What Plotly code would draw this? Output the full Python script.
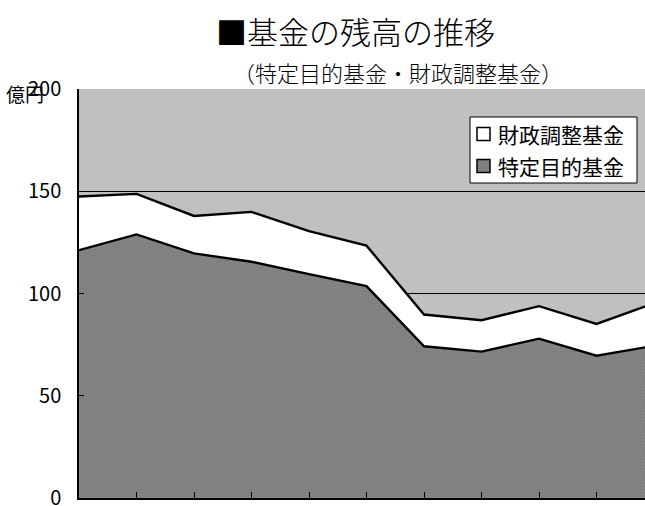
import plotly.graph_objects as go

# ---- data ----
x_idx = list(range(11))
series_names = ["特定目的基金", "財政調整基金"]
tokutei = [121.2, 128.9, 119.6, 115.5, 109.5, 103.6, 74.2, 71.6, 77.9, 69.6, 74.4]
zaisei = [26.2, 19.8, 18.3, 24.4, 21.0, 19.8, 15.5, 15.3, 15.9, 15.5, 20.8]
y_ticks = [0, 50, 100, 150, 200]
x_tick_positions = [1, 2, 3, 4, 5, 6, 7, 8, 9]
title_text = "■基金の残高の推移"
subtitle_text = "（特定目的基金・財政調整基金）"
unit_text = "億円"

FONT = "Noto Sans CJK JP"
W, H = 645, 506
L, R, T, B = 79, 645, 89, 498

fig = go.Figure()
fig.add_trace(go.Scatter(x=x_idx, y=tokutei, name=series_names[0], stackgroup="one",
                         mode="lines", line=dict(color="black", width=2.4),
                         fillcolor="#808080",
                         fillpattern=dict(shape=".", size=3, solidity=0.35,
                                          fgcolor="#727272", bgcolor="#848484"),
                         showlegend=False, hoverinfo="skip"))
fig.add_trace(go.Scatter(x=x_idx, y=zaisei, name=series_names[1], stackgroup="one",
                         mode="lines", line=dict(color="black", width=2.4),
                         fillcolor="#FFFFFF", showlegend=False, hoverinfo="skip"))

fig.update_layout(
    width=W, height=H,
    margin=dict(l=L, r=W - R, t=T, b=H - B, autoexpand=False),
    paper_bgcolor="white", plot_bgcolor="#C0C0C0",
    font=dict(family=FONT, color="black"),
    xaxis=dict(range=[0, 9.843], showgrid=False, zeroline=False, automargin=False,
               tickvals=x_tick_positions, ticktext=[""] * len(x_tick_positions),
               ticks="inside", ticklen=6, tickcolor="black", tickwidth=1,
               showline=True, linecolor="black", linewidth=2),
    yaxis=dict(range=[0, 200], tickvals=y_ticks, showgrid=True, gridcolor="black",
               gridwidth=1, zeroline=False, automargin=False, ticks="inside", ticklen=5,
               tickcolor="black", showline=True, linecolor="black", linewidth=1.5,
               tickfont=dict(size=20, family=FONT), ticklabelstandoff=12,
               ticklabeloverflow="allow"),
)

def px(xv):
    return (xv - L) / (R - L)
def py(yv):
    return (B - yv) / (B - T)

annots = [
    dict(text=title_text, x=355, y=30, font=dict(size=31, weight=300)),
    dict(text=subtitle_text, x=398, y=72, font=dict(size=22, weight=300)),
    dict(text=unit_text, x=25, y=93, font=dict(size=19)),
]
for a in annots:
    fig.add_annotation(text=a["text"], xref="paper", yref="paper",
                       x=px(a["x"]), y=py(a["y"]), xanchor="center",
                       yanchor="middle", showarrow=False, font=a["font"])

# custom legend box
fig.add_shape(type="rect", xref="paper", yref="paper", x0=px(470), x1=px(637),
              y0=py(183), y1=py(117), fillcolor="white", line=dict(color="black", width=1))
legend_rows = [(series_names[1], "white", 134), (series_names[0], "#808080", 166)]
for name, col, yc in legend_rows:
    fig.add_shape(type="rect", xref="paper", yref="paper", x0=px(477), x1=px(490),
                  y0=py(yc + 6.5), y1=py(yc - 6.5), fillcolor=col,
                  line=dict(color="black", width=1.5))
    fig.add_annotation(text=name, xref="paper", yref="paper", x=px(496), y=py(yc),
                       xanchor="left", yanchor="middle", showarrow=False,
                       font=dict(size=21))

fig.write_html("out.html", config={"displayModeBar": False},
               post_script="document.body.style.margin='0';")
